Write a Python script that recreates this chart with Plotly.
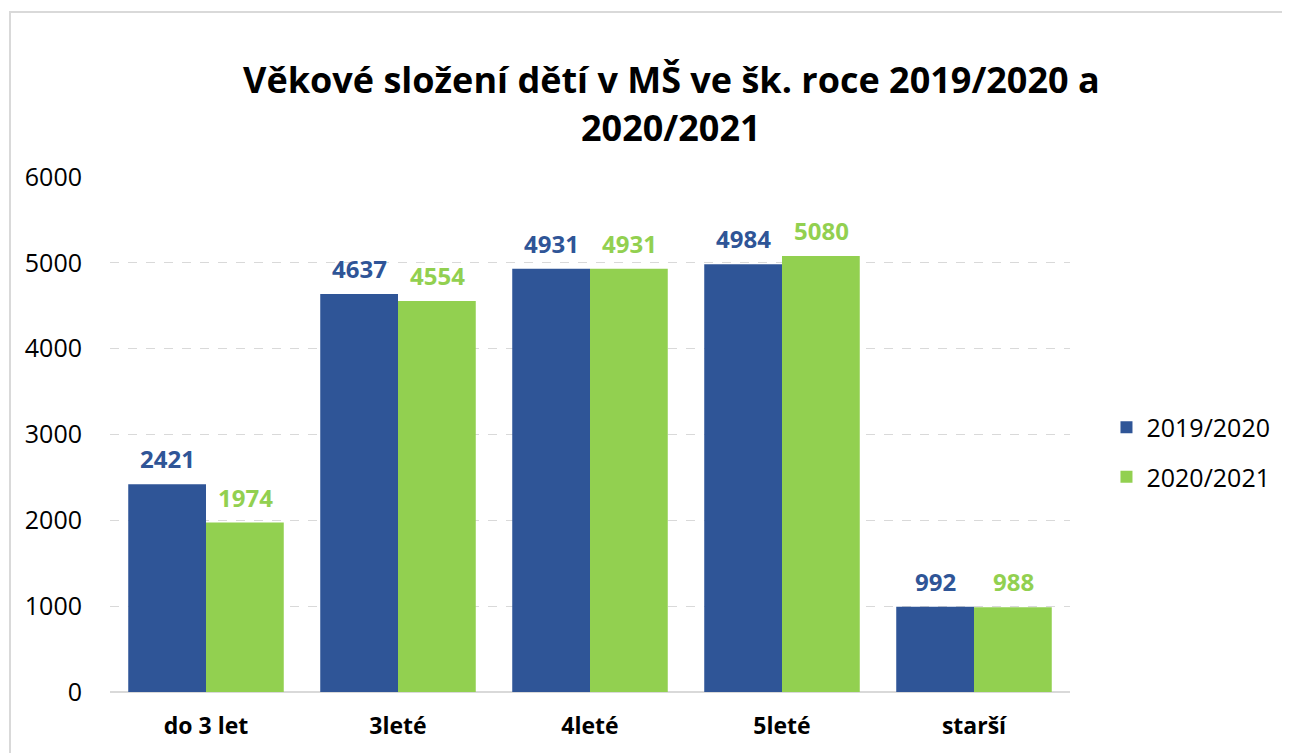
import plotly.graph_objects as go

categories = ["do 3 let", "3leté", "4leté", "5leté", "starší"]
series_names = ["2019/2020", "2020/2021"]
values_2019 = [2421, 4637, 4931, 4984, 992]
values_2020 = [1974, 4554, 4931, 5080, 988]
y_ticks = [0, 1000, 2000, 3000, 4000, 5000, 6000]
title_lines = ["Věkové složení dětí v MŠ ve šk. roce 2019/2020 a", "2020/2021"]

colors = ["#2F5597", "#92D050"]
FONT = "Open Sans"

fig = go.Figure()
for name, vals, col in zip(series_names, [values_2019, values_2020], colors):
    fig.add_trace(go.Bar(x=categories, y=vals, name=name, marker_color=col,
                         marker_line_width=0, legendgroup=name, hoverinfo="x+y"))

annotations = []
for vals, col, shift in zip([values_2019, values_2020], colors, [-39, 39]):
    for c, v in zip(categories, vals):
        annotations.append(dict(x=c, y=v, xref="x", yref="y", text=f"<b>{v}</b>",
                                showarrow=False, xshift=shift, yanchor="bottom", yshift=7,
                                font=dict(family=FONT, size=24, color=col)))

# title lines (pixel centres ~79 and ~128 from top of chart frame)
for line, ycen in zip(title_lines, [79, 128]):
    annotations.append(dict(text=f"<b>{line}</b>", xref="paper", yref="paper",
                            x=(671 - 110) / 960, y=(692 - ycen) / 515,
                            xanchor="center", yanchor="middle", showarrow=False,
                            font=dict(family=FONT, size=36, color="#000000")))

fig.update_layout(
    width=1290, height=753,
    margin=dict(l=102, r=228, t=169, b=69),
    paper_bgcolor="white", plot_bgcolor="white",
    barmode="group", bargap=0.19, bargroupgap=0,
    legend=dict(x=1.038, y=(692 - 452) / 515, xanchor="left", yanchor="middle",
                font=dict(family=FONT, size=25, color="#000000"),
                tracegroupgap=14, itemsizing="constant"),
    annotations=annotations,
    shapes=[dict(type="rect", xref="paper", yref="paper", x0=-100 / 960, x1=1200 / 960,
                 y0=-80 / 515, y1=(692 - 12) / 515, line=dict(color="#D9D9D9", width=2),
                 fillcolor="rgba(0,0,0,0)", layer="below")],
)
fig.update_xaxes(tickfont=dict(family=FONT, size=23, color="#000000"),
                 tickprefix="<b>", ticksuffix="</b>", showline=False, ticks="",
                 ticklabelstandoff=18)
fig.update_yaxes(range=[0, 6000], tickvals=y_ticks, showgrid=True,
                 gridcolor="#D9D9D9", griddash="dash", gridwidth=1,
                 zeroline=True, zerolinecolor="#D9D9D9", zerolinewidth=2,
                 tickfont=dict(family=FONT, size=25, color="#000000"), ticks="",
                 ticklen=0, ticklabelstandoff=27)
fig.write_html("out.html")
